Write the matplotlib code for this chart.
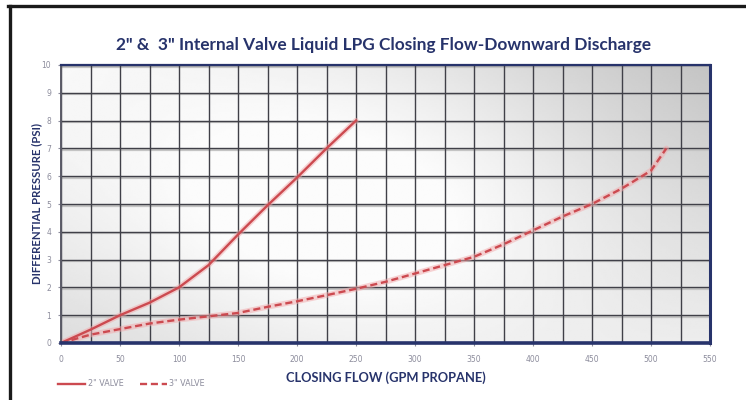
import numpy as np
import matplotlib
matplotlib.use("Agg")
import matplotlib.pyplot as plt
from matplotlib.lines import Line2D

NAVY = '#27336b'
RED = '#cc4a50'
GLOW = '#f2a9ab'
TICK_GRAY = '#8c8c9c'

# Closing flow curves (GPM propane vs differential pressure, PSI)
flow_2in = [0, 25, 50, 75, 100, 125, 150, 175, 200, 225, 250]
psi_2in = [0, 0.48, 1.0, 1.45, 2.0, 2.8, 3.9, 4.95, 5.95, 7.0, 8.0]

flow_3in = [0, 25, 50, 75, 100, 125, 150, 175, 200, 225, 250, 275, 300,
            325, 350, 375, 400, 425, 450, 475, 500, 513]
psi_3in = [0, 0.3, 0.5, 0.7, 0.84, 0.96, 1.08, 1.3, 1.5, 1.72, 1.95, 2.2,
           2.5, 2.8, 3.1, 3.55, 4.05, 4.55, 5.0, 5.55, 6.2, 7.0]

x_ticks = list(range(0, 551, 50))
y_ticks = list(range(0, 11))

TITLE = '2" &  3" Internal Valve Liquid LPG Closing Flow-Downward Discharge'

W, H = 746, 400
fig = plt.figure(figsize=(W / 100, H / 100), dpi=100, facecolor='white')
ax = fig.add_axes([61 / W, 1 - 343 / H, (710 - 61) / W, (343 - 65) / H])

# soft grey shading behind the grid: corner tones plus a bright middle
gx, gy = np.meshgrid(np.linspace(0, 1, 300), np.linspace(0, 1, 150))
tl, tr, bl, br = 0.96, 0.76, 0.85, 0.92
shade = (tl * (1 - gx) * gy + tr * gx * gy
         + bl * (1 - gx) * (1 - gy) + br * gx * (1 - gy))
shade += 0.14 * np.exp(-((gx - 0.45) ** 2 / 0.15 + (gy - 0.5) ** 2 / 0.3))
shade = np.clip(shade, 0, 0.985)
ax.imshow(shade, cmap='gray', vmin=0, vmax=1, origin='lower',
          extent=[0, 550, 0, 10], aspect='auto', zorder=0, interpolation='bilinear')

ax.set_xlim(0, 550)
ax.set_ylim(0, 10)
ax.set_xticks(x_ticks)
ax.set_xticks(np.arange(25, 550, 50), minor=True)
ax.set_yticks(y_ticks)

# grid: light band under every horizontal line, then the dark rules
for yv in y_ticks[1:]:
    ax.axhline(yv - 0.06, color='#c4c4c4', lw=1.6, zorder=1)
ax.grid(which='both', axis='x', color='#404048', lw=1.0, zorder=1.5)
ax.grid(which='major', axis='y', color='#404048', lw=1.0, zorder=1.5)

ax.tick_params(which='both', direction='out', length=2, color=TICK_GRAY,
               labelsize=5.5, labelcolor=TICK_GRAY)
ax.tick_params(axis='x', pad=7)
ax.tick_params(axis='y', pad=5)
ax.tick_params(which='minor', length=0)

# curves with a faint pink halo
ax.plot(flow_2in, psi_2in, color=GLOW, lw=4.0, alpha=0.5, zorder=2, solid_capstyle='round')
ax.plot(flow_2in, psi_2in, color=RED, lw=1.7, zorder=3, label='2" VALVE')
ax.plot(flow_3in, psi_3in, color=GLOW, lw=4.0, alpha=0.5, zorder=2, solid_capstyle='round')
ax.plot(flow_3in, psi_3in, color=RED, lw=1.7, zorder=3, dashes=(3, 1.6),
        label='3" VALVE')

for side in ['bottom', 'right', 'top']:
    ax.spines[side].set_color(NAVY)
ax.spines['bottom'].set_linewidth(2.6)
ax.spines['right'].set_linewidth(2.2)
ax.spines['top'].set_linewidth(1.6)
ax.spines['left'].set_color('#5a5a66')
ax.spines['left'].set_linewidth(1.4)
for sp in ax.spines.values():
    sp.set_zorder(4)

fig.text(384 / W, 1 - 45 / H, TITLE, ha='center', va='center',
         fontsize=12.4, fontweight='bold', color=NAVY, family='Lato')
fig.text(37 / W, 1 - 204 / H, 'DIFFERENTIAL PRESSURE (PSI)', rotation=90,
         ha='center', va='center', fontsize=8.2, fontweight='bold',
         color=NAVY, family='Lato')
fig.text(386 / W, 1 - 378 / H, 'CLOSING FLOW (GPM PROPANE)', ha='center',
         va='center', fontsize=9.3, fontweight='bold', color=NAVY, family='Lato')

handles = [Line2D([], [], color=RED, lw=1.7),
           Line2D([], [], color=RED, lw=1.7, dashes=(3, 1.6))]
leg = fig.legend(handles, ['2" VALVE', '3" VALVE'], loc='center left',
                 bbox_to_anchor=(58 / W, 1 - 384 / H), ncol=2, frameon=False,
                 fontsize=5.8, handlelength=3.4, handletextpad=0.3,
                 columnspacing=2.0, borderaxespad=0, borderpad=0)
for t in leg.get_texts():
    t.set_color(TICK_GRAY)

# dark frame along the top and left of the page
fig.add_artist(Line2D([9.5 / W, 9.5 / W], [0, 1 - 5.5 / H], color='#1a1a1a',
                      lw=2.4, transform=fig.transFigure))
fig.add_artist(Line2D([8.3 / W, 1], [1 - 5.5 / H, 1 - 5.5 / H], color='#1a1a1a',
                      lw=2.4, transform=fig.transFigure))

fig.savefig('out.png', dpi=100, facecolor='white')
